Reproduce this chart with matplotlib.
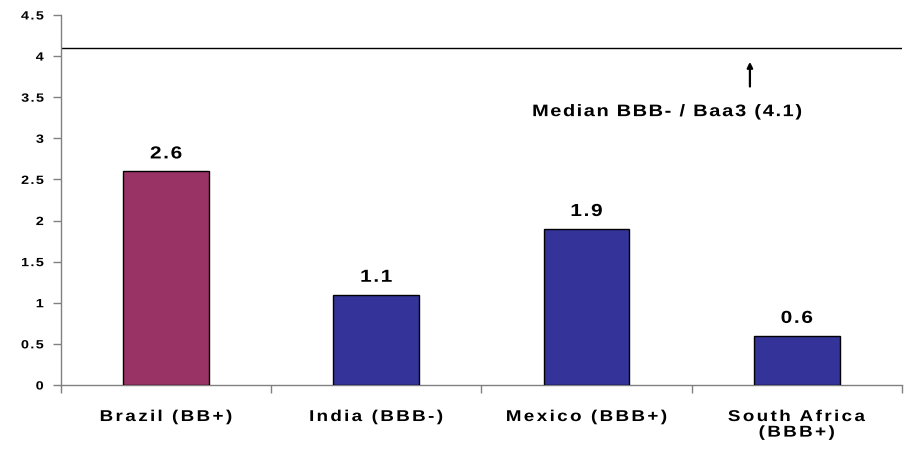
import matplotlib
matplotlib.use("Agg")
import numpy as np
import matplotlib.pyplot as plt
from matplotlib.path import Path
from matplotlib.patheffects import AbstractPathEffect
from matplotlib.transforms import IdentityTransform

categories = ["Brazil (BB+)", "India (BBB-)", "Mexico (BBB+)", "South Africa\n(BBB+)"]
values = [2.6, 1.1, 1.9, 0.6]
bar_colors = ["#993366", "#333399", "#333399", "#333399"]
median_value = 4.1
median_label = "Median BBB- / Baa3 (4.1)"
y_ticks = [0, 0.5, 1, 1.5, 2, 2.5, 3, 3.5, 4, 4.5]
y_tick_labels = ["0", "0.5", "1", "1.5", "2", "2.5", "3", "3.5", "4", "4.5"]

plt.rcParams["font.family"] = ["Liberation Sans", "DejaVu Sans"]


class WideText(AbstractPathEffect):
    """Draw text with widened glyphs and extra letter spacing (points)."""

    def __init__(self, spacing, stretch=1.2, align="center"):
        super().__init__()
        self.spacing = spacing
        self.stretch = stretch
        self.align = align

    def draw_path(self, renderer, gc, tpath, affine, rgbFace=None):
        codes = tpath.codes
        verts = affine.transform(tpath.vertices)
        if codes is None or len(codes) == 0:
            renderer.draw_path(gc, Path(verts, codes), IdentityTransform(), rgbFace)
            return
        t = renderer.points_to_pixels(self.spacing)
        sx = self.stretch
        em = abs(affine.get_matrix()[0, 0]) * 100.0
        starts = list(np.flatnonzero(codes == Path.MOVETO)) + [len(codes)]
        contours = []
        for s, e in zip(starts[:-1], starts[1:]):
            mask = codes[s:e] != Path.CLOSEPOLY
            xs = verts[s:e][mask, 0]
            if len(xs):
                contours.append((xs.min(), xs.max(), s, e))
        contours.sort(key=lambda c: c[0])
        # group contours into glyphs by horizontal overlap
        groups = []
        for c in contours:
            if groups and c[0] < groups[-1]["xmax"] - 0.01 * em:
                groups[-1]["xmax"] = max(groups[-1]["xmax"], c[1])
                groups[-1]["items"].append(c)
            else:
                groups.append({"xmin": c[0], "xmax": c[1], "items": [c]})
        new = verts.copy()
        shift = 0.0
        for i, g in enumerate(groups):
            if i > 0:
                shift += t
                if g["xmin"] - groups[i - 1]["xmax"] > 0.24 * em:
                    shift += t
            x0 = g["xmin"]
            for (_, _, s, e) in g["items"]:
                new[s:e, 0] = x0 + (verts[s:e, 0] - x0) * sx + shift
            shift += (g["xmax"] - g["xmin"]) * (sx - 1)
        offset = {"center": -shift / 2, "right": -shift, "left": 0.0}[self.align]
        new[:, 0] += offset
        renderer.draw_path(gc, Path(new, codes), IdentityTransform(), rgbFace)


fig = plt.figure(figsize=(9.15, 4.54), dpi=100)
ax = fig.add_axes([0.0667, 0.152, 0.919, 0.815])

x = list(range(len(categories)))
ax.bar(x, values, width=0.408, color=bar_colors, edgecolor="black", linewidth=1.0, zorder=3)

for xi, v in zip(x, values):
    ax.annotate(f"{v:.1f}", xy=(xi, v), xytext=(0, 9.2), textcoords="offset points",
                ha="center", va="baseline", fontsize=12.5, fontweight="bold",
                path_effects=[WideText(1.45)])

ax.axhline(median_value, color="black", linewidth=1.0, zorder=2)
ax.annotate("", xy=(2.777, 3.93), xytext=(2.777, 3.63),
            arrowprops=dict(arrowstyle="-|>", color="black", lw=1.6,
                            mutation_scale=8, shrinkA=0, shrinkB=0))
ax.text(2.382, 3.27, median_label, ha="center", va="baseline",
        fontsize=12, fontweight="bold", path_effects=[WideText(1.35)])

ax.set_xlim(-0.5, len(categories) - 0.5)
ax.set_ylim(0, 4.5)
ax.set_yticks(y_ticks)
ax.set_yticklabels(y_tick_labels, fontsize=8.6, fontweight="bold")
for lbl in ax.get_yticklabels():
    lbl.set_path_effects([WideText(1.2, align="right")])

ax.set_xticks(x)
ax.set_xticklabels(categories, fontsize=11.3, fontweight="bold", linespacing=1.05)
for lbl in ax.get_xticklabels():
    lbl.set_path_effects([WideText(1.9)])
ax.tick_params(axis="x", length=0, pad=17.3)
ax.set_xticks([i - 0.5 for i in range(len(categories) + 1)], minor=True)
ax.tick_params(axis="x", which="minor", length=5.5, direction="out", color="#808080", width=1)
ax.tick_params(axis="y", length=5.5, direction="out", color="#808080", width=1, pad=7)

for side in ("top", "right"):
    ax.spines[side].set_visible(False)
for side in ("left", "bottom"):
    ax.spines[side].set_color("#808080")
    ax.spines[side].set_linewidth(1.0)

fig.savefig("out.png", dpi=100, facecolor="white")
